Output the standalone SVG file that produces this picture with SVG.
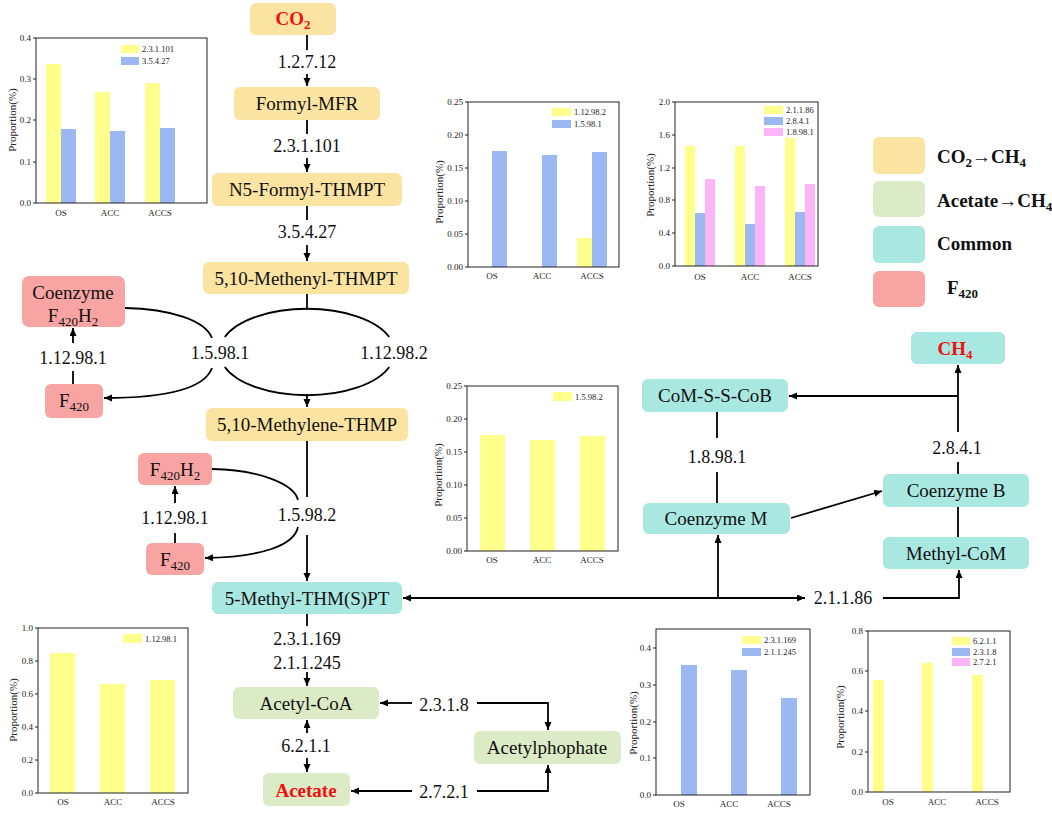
<svg xmlns="http://www.w3.org/2000/svg" width="1052" height="813" viewBox="0 0 1052 813">
<style>
text{font-family:'Liberation Serif','Times New Roman','DejaVu Serif',serif}
.o{fill:#FBE3A2}.g{fill:#DAEBC5}.c{fill:#A9E7E1}.r{fill:#F7A4A3}
.t{font-size:19px;fill:#111;text-anchor:middle}
.red{fill:#F01010;font-weight:bold}
.ec{font-size:18px;fill:#111;text-anchor:middle}
.ln{stroke:#000;stroke-width:1.8;fill:none}
.ar{stroke:#000;stroke-width:1.8;fill:none;marker-end:url(#ah)}
.lg{font-size:19px;font-weight:bold;fill:#111}
.fr{fill:none;stroke:#222;stroke-width:1}
.yl{font-size:9px;fill:#222;text-anchor:end}
.xl{font-size:9px;fill:#222;text-anchor:middle}
.le{font-size:8.5px;fill:#222}
.ti{font-size:11px;fill:#222;text-anchor:middle}
.by{fill:#FFFF8C}.bb{fill:#9BB8F2}.bp{fill:#FDB5F8}
</style>
<defs>
<marker id="ah" markerUnits="userSpaceOnUse" markerWidth="9" markerHeight="8" refX="8" refY="3.5" orient="auto">
<path d="M0,0 L8,3.5 L0,7 z" fill="#000"/>
</marker>
</defs>
<rect width="1052" height="813" fill="#fff"/>

<!-- Connectors -->
<g id="connectors">
<line class="ln" x1="307" y1="35" x2="307" y2="50"/>
<line class="ar" x1="307" y1="74" x2="307" y2="86"/>
<line class="ln" x1="307" y1="120" x2="307" y2="134"/>
<line class="ar" x1="307" y1="158" x2="307" y2="172"/>
<line class="ln" x1="307" y1="206" x2="307" y2="220"/>
<line class="ar" x1="307" y1="245" x2="307" y2="261"/>
<line class="ln" x1="307" y1="294" x2="307" y2="310"/>
<path class="ln" d="M224.8,337 A87,42 0 0 1 389.2,337"/>
<path class="ln" d="M224.8,367 A87,42 0 0 0 389.2,367"/>
<line class="ar" x1="307" y1="394" x2="307" y2="407"/>
<path class="ln" d="M125,308 C170,309 205,320 212,338"/>
<path class="ar" d="M212,368 C205,387 170,398 104,398"/>
<line class="ar" x1="73" y1="343" x2="73" y2="328"/>
<line class="ln" x1="73" y1="371" x2="73" y2="384"/>
<line class="ln" x1="307" y1="441" x2="307" y2="497"/>
<line class="ar" x1="307" y1="535" x2="307" y2="581"/>
<path class="ln" d="M212,469 C260,470 294,484 298,500"/>
<path class="ar" d="M298,527 C294,546 260,557 205,558"/>
<line class="ar" x1="175" y1="503" x2="175" y2="486"/>
<line class="ln" x1="175" y1="533" x2="175" y2="543"/>
<line class="ar" x1="718" y1="598" x2="403" y2="598"/>
<line class="ar" x1="718" y1="598" x2="718" y2="535"/>
<line class="ar" x1="718" y1="598" x2="805" y2="598"/>
<polyline class="ar" points="883,598 959,598 959,570"/>
<line class="ln" x1="958" y1="507" x2="958" y2="537"/>
<line class="ln" x1="958" y1="474" x2="958" y2="462"/>
<line class="ar" x1="958" y1="432" x2="958" y2="365"/>
<line class="ar" x1="958" y1="396" x2="789" y2="396"/>
<line class="ar" x1="791" y1="518" x2="882" y2="491"/>
<line class="ln" x1="717" y1="412" x2="717" y2="438"/>
<line class="ln" x1="717" y1="472" x2="717" y2="503"/>
<line class="ln" x1="307" y1="614" x2="307" y2="626"/>
<line class="ar" x1="307" y1="672" x2="307" y2="686"/>
<line class="ar" x1="307" y1="733" x2="307" y2="720"/>
<line class="ar" x1="307" y1="758" x2="307" y2="772"/>
<line class="ar" x1="412" y1="703" x2="380" y2="703"/>
<polyline class="ar" points="477,703 548,703 548,730"/>
<line class="ar" x1="412" y1="791" x2="351" y2="791"/>
<polyline class="ar" points="477,791 548,791 548,765"/>
<text class="ec" x="307" y="68">1.2.7.12</text>
<text class="ec" x="307" y="152">2.3.1.101</text>
<text class="ec" x="307" y="238">3.5.4.27</text>
<text class="ec" x="220" y="359">1.5.98.1</text>
<text class="ec" x="394" y="359">1.12.98.2</text>
<text class="ec" x="73" y="364">1.12.98.1</text>
<text class="ec" x="307" y="521">1.5.98.2</text>
<text class="ec" x="175" y="524">1.12.98.1</text>
<text class="ec" x="307" y="645">2.3.1.169</text>
<text class="ec" x="307" y="669">2.1.1.245</text>
<text class="ec" x="306" y="752">6.2.1.1</text>
<text class="ec" x="444" y="711">2.3.1.8</text>
<text class="ec" x="444" y="798">2.7.2.1</text>
<text class="ec" x="843" y="604">2.1.1.86</text>
<text class="ec" x="717" y="463">1.8.98.1</text>
<text class="ec" x="957" y="454">2.8.4.1</text>
</g>

<!-- Nodes -->
<g id="n-co2"><rect class="o" x="250" y="3" width="86" height="32" rx="6"/><text class="t red" x="293" y="25">CO<tspan font-size="13" dy="4">2</tspan></text></g>
<g id="n-formylmfr"><rect class="o" x="234" y="87" width="146" height="33" rx="6"/><text class="t" x="307" y="110">Formyl-MFR</text></g>
<g id="n-n5formyl"><rect class="o" x="212" y="173" width="190" height="33" rx="6"/><text class="t" x="307" y="196">N5-Formyl-THMPT</text></g>
<g id="n-methenyl"><rect class="o" x="203" y="262" width="206" height="32" rx="6"/><text class="t" x="306" y="285">5,10-Methenyl-THMPT</text></g>
<g id="n-methylene"><rect class="o" x="206" y="408" width="202" height="33" rx="6"/><text class="t" x="307" y="431">5,10-Methylene-THMP</text></g>
<g id="n-coenzf420h2"><rect class="r" x="22" y="276" width="103" height="51" rx="7"/><text class="t" x="73" y="299">Coenzyme</text><text class="t" x="73" y="322">F<tspan font-size="13" dy="4">420</tspan><tspan dy="-4">H</tspan><tspan font-size="13" dy="4">2</tspan></text></g>
<g id="n-f420a"><rect class="r" x="45" y="384" width="58" height="34" rx="6"/><text class="t" x="74" y="407">F<tspan font-size="13" dy="4">420</tspan></text></g>
<g id="n-f420h2"><rect class="r" x="138" y="453" width="74" height="32" rx="6"/><text class="t" x="175" y="476">F<tspan font-size="13" dy="4">420</tspan><tspan dy="-4">H</tspan><tspan font-size="13" dy="4">2</tspan></text></g>
<g id="n-f420b"><rect class="r" x="146" y="543" width="58" height="32" rx="6"/><text class="t" x="175" y="566">F<tspan font-size="13" dy="4">420</tspan></text></g>
<g id="n-methylthm"><rect class="c" x="212" y="582" width="190" height="32" rx="6"/><text class="t" x="307" y="605">5-Methyl-THM(S)PT</text></g>
<g id="n-acetylcoa"><rect class="g" x="233" y="687" width="146" height="32" rx="6"/><text class="t" x="306" y="710">Acetyl-CoA</text></g>
<g id="n-acetate"><rect class="g" x="263" y="773" width="87" height="33" rx="6"/><text class="t red" x="306" y="797">Acetate</text></g>
<g id="n-acetylphophate"><rect class="g" x="474" y="731" width="147" height="33" rx="6"/><text class="t" x="547" y="754">Acetylphophate</text></g>
<g id="n-ch4"><rect class="c" x="911" y="332" width="94" height="32" rx="6"/><text class="t red" x="955" y="355">CH<tspan font-size="13" dy="4">4</tspan></text></g>
<g id="n-comsscob"><rect class="c" x="642" y="379" width="146" height="33" rx="6"/><text class="t" x="715" y="402">CoM-S-S-CoB</text></g>
<g id="n-coenzm"><rect class="c" x="643" y="503" width="147" height="31" rx="6"/><text class="t" x="716" y="525">Coenzyme M</text></g>
<g id="n-coenzb"><rect class="c" x="883" y="474" width="146" height="33" rx="6"/><text class="t" x="956" y="497">Coenzyme B</text></g>
<g id="n-methylcom"><rect class="c" x="883" y="537" width="146" height="32" rx="6"/><text class="t" x="956" y="560">Methyl-CoM</text></g>

<!-- Legend -->
<g id="legend">
<rect class="o" x="873" y="137" width="52" height="37" rx="6"/>
<rect class="g" x="873" y="181" width="52" height="36" rx="6"/>
<rect class="c" x="873" y="226" width="52" height="37" rx="6"/>
<rect class="r" x="873" y="271" width="52" height="36" rx="6"/>
<text class="lg" x="937" y="163">CO<tspan font-size="13" dy="4">2</tspan><tspan dy="-4">→CH</tspan><tspan font-size="13" dy="4">4</tspan></text>
<text class="lg" x="937" y="207">Acetate→CH<tspan font-size="13" dy="4">4</tspan></text>
<text class="lg" x="937" y="250">Common</text>
<text class="lg" x="947" y="294">F<tspan font-size="13" dy="4">420</tspan></text>
</g>

<!-- Chart 1 -->
<g id="chart1">
<rect class="by" x="46" y="64" width="15" height="139"/><rect class="bb" x="61" y="129" width="15" height="74"/>
<rect class="by" x="95" y="92" width="15" height="111"/><rect class="bb" x="110" y="131" width="15" height="72"/>
<rect class="by" x="145" y="83" width="15" height="120"/><rect class="bb" x="160" y="128" width="15" height="75"/>
<rect class="fr" x="36" y="38" width="171" height="165"/>
<g stroke="#222" stroke-width="1"><line x1="33" y1="38" x2="36" y2="38"/><line x1="33" y1="79" x2="36" y2="79"/><line x1="33" y1="120" x2="36" y2="120"/><line x1="33" y1="162" x2="36" y2="162"/><line x1="33" y1="203" x2="36" y2="203"/></g>
<text class="yl" x="31" y="41">0.4</text><text class="yl" x="31" y="82">0.3</text><text class="yl" x="31" y="123">0.2</text><text class="yl" x="31" y="165">0.1</text><text class="yl" x="31" y="206">0.0</text>
<text class="xl" x="61" y="216">OS</text><text class="xl" x="110" y="216">ACC</text><text class="xl" x="160" y="216">ACCS</text>
<rect class="by" x="121" y="45" width="18" height="8"/><text class="le" x="142" y="52">2.3.1.101</text>
<rect class="bb" x="121" y="57" width="18" height="8"/><text class="le" x="142" y="64">3.5.4.27</text>
<text class="ti" font-size="12" transform="translate(16,120) rotate(-90)">Proportion(%)</text>
</g>

<!-- Chart 2 -->
<g id="chart2">
<rect class="bb" x="492" y="151" width="15" height="116"/>
<rect class="bb" x="542" y="155" width="15" height="112"/>
<rect class="by" x="577" y="238" width="15" height="29"/><rect class="bb" x="592" y="152" width="15" height="115"/>
<rect class="fr" x="468" y="102" width="151" height="165"/>
<g stroke="#222" stroke-width="1"><line x1="465" y1="102" x2="468" y2="102"/><line x1="465" y1="135" x2="468" y2="135"/><line x1="465" y1="168" x2="468" y2="168"/><line x1="465" y1="201" x2="468" y2="201"/><line x1="465" y1="234" x2="468" y2="234"/><line x1="465" y1="267" x2="468" y2="267"/></g>
<text class="yl" x="463" y="105">0.25</text><text class="yl" x="463" y="138">0.20</text><text class="yl" x="463" y="171">0.15</text><text class="yl" x="463" y="204">0.10</text><text class="yl" x="463" y="237">0.05</text><text class="yl" x="463" y="270">0.00</text>
<text class="xl" x="492" y="279">OS</text><text class="xl" x="542" y="279">ACC</text><text class="xl" x="592" y="279">ACCS</text>
<rect class="by" x="552" y="108" width="19" height="8"/><text class="le" x="574" y="115">1.12.98.2</text>
<rect class="bb" x="552" y="120" width="19" height="8"/><text class="le" x="574" y="127">1.5.98.1</text>
<text class="ti" transform="translate(443,192) rotate(-90)">Proportion(%)</text>
</g>

<!-- Chart 3 -->
<g id="chart3">
<rect class="by" x="685" y="146" width="10" height="120"/><rect class="bb" x="695" y="213" width="10" height="53"/><rect class="bp" x="705" y="179" width="10" height="87"/>
<rect class="by" x="735" y="146" width="10" height="120"/><rect class="bb" x="745" y="224" width="10" height="42"/><rect class="bp" x="755" y="186" width="10" height="80"/>
<rect class="by" x="785" y="138" width="10" height="128"/><rect class="bb" x="795" y="212" width="10" height="54"/><rect class="bp" x="805" y="184" width="10" height="82"/>
<rect class="fr" x="675" y="102" width="143" height="164"/>
<g stroke="#222" stroke-width="1"><line x1="672" y1="102" x2="675" y2="102"/><line x1="672" y1="135" x2="675" y2="135"/><line x1="672" y1="168" x2="675" y2="168"/><line x1="672" y1="200" x2="675" y2="200"/><line x1="672" y1="233" x2="675" y2="233"/><line x1="672" y1="266" x2="675" y2="266"/></g>
<text class="yl" x="670" y="105">2.0</text><text class="yl" x="670" y="138">1.6</text><text class="yl" x="670" y="171">1.2</text><text class="yl" x="670" y="203">0.8</text><text class="yl" x="670" y="236">0.4</text><text class="yl" x="670" y="269">0.0</text>
<text class="xl" x="700" y="280">OS</text><text class="xl" x="750" y="280">ACC</text><text class="xl" x="800" y="280">ACCS</text>
<rect class="by" x="764" y="106" width="19" height="8"/><text class="le" x="786" y="113">2.1.1.86</text>
<rect class="bb" x="764" y="117" width="19" height="8"/><text class="le" x="786" y="124">2.8.4.1</text>
<rect class="bp" x="764" y="128" width="19" height="8"/><text class="le" x="786" y="135">1.8.98.1</text>
<text class="ti" transform="translate(654,185) rotate(-90)">Proportion(%)</text>
</g>

<!-- Chart 4 -->
<g id="chart4">
<rect class="by" x="480" y="435" width="25" height="116"/>
<rect class="by" x="530" y="440" width="25" height="111"/>
<rect class="by" x="580" y="436" width="25" height="115"/>
<rect class="fr" x="467" y="386" width="151" height="165"/>
<g stroke="#222" stroke-width="1"><line x1="464" y1="386" x2="467" y2="386"/><line x1="464" y1="419" x2="467" y2="419"/><line x1="464" y1="452" x2="467" y2="452"/><line x1="464" y1="485" x2="467" y2="485"/><line x1="464" y1="518" x2="467" y2="518"/><line x1="464" y1="551" x2="467" y2="551"/></g>
<text class="yl" x="462" y="389">0.25</text><text class="yl" x="462" y="422">0.20</text><text class="yl" x="462" y="455">0.15</text><text class="yl" x="462" y="488">0.10</text><text class="yl" x="462" y="521">0.05</text><text class="yl" x="462" y="554">0.00</text>
<text class="xl" x="492" y="563">OS</text><text class="xl" x="542" y="563">ACC</text><text class="xl" x="592" y="563">ACCS</text>
<rect class="by" x="553" y="392" width="19" height="9"/><text class="le" x="575" y="400">1.5.98.2</text>
<text class="ti" transform="translate(442,475) rotate(-90)">Proportion(%)</text>
</g>

<!-- Chart 5 -->
<g id="chart5">
<rect class="by" x="50" y="653" width="25" height="140"/>
<rect class="by" x="100" y="684" width="25" height="109"/>
<rect class="by" x="150" y="680" width="25" height="113"/>
<rect class="fr" x="38" y="628" width="150" height="165"/>
<g stroke="#222" stroke-width="1"><line x1="35" y1="628" x2="38" y2="628"/><line x1="35" y1="661" x2="38" y2="661"/><line x1="35" y1="694" x2="38" y2="694"/><line x1="35" y1="727" x2="38" y2="727"/><line x1="35" y1="760" x2="38" y2="760"/><line x1="35" y1="793" x2="38" y2="793"/></g>
<text class="yl" x="33" y="631">1.0</text><text class="yl" x="33" y="664">0.8</text><text class="yl" x="33" y="697">0.6</text><text class="yl" x="33" y="730">0.4</text><text class="yl" x="33" y="763">0.2</text><text class="yl" x="33" y="796">0.0</text>
<text class="xl" x="63" y="805">OS</text><text class="xl" x="113" y="805">ACC</text><text class="xl" x="163" y="805">ACCS</text>
<rect class="by" x="123" y="634" width="19" height="9"/><text class="le" x="145" y="642">1.12.98.1</text>
<text class="ti" transform="translate(17,710) rotate(-90)">Proportion(%)</text>
</g>

<!-- Chart 6 -->
<g id="chart6">
<rect class="bb" x="681" y="665" width="16" height="130"/>
<rect class="bb" x="731" y="670" width="16" height="125"/>
<rect class="bb" x="781" y="698" width="16" height="97"/>
<rect class="fr" x="656" y="629" width="154" height="166"/>
<g stroke="#222" stroke-width="1"><line x1="653" y1="648" x2="656" y2="648"/><line x1="653" y1="685" x2="656" y2="685"/><line x1="653" y1="722" x2="656" y2="722"/><line x1="653" y1="758" x2="656" y2="758"/><line x1="653" y1="795" x2="656" y2="795"/></g>
<text class="yl" x="651" y="651">0.4</text><text class="yl" x="651" y="688">0.3</text><text class="yl" x="651" y="725">0.2</text><text class="yl" x="651" y="761">0.1</text><text class="yl" x="651" y="798">0.0</text>
<text class="xl" x="679" y="807">OS</text><text class="xl" x="729" y="807">ACC</text><text class="xl" x="779" y="807">ACCS</text>
<rect class="by" x="742" y="636" width="19" height="8"/><text class="le" x="764" y="643">2.3.1.169</text>
<rect class="bb" x="742" y="648" width="19" height="8"/><text class="le" x="764" y="655">2.1.1.245</text>
<text class="ti" transform="translate(637,723) rotate(-90)">Proportion(%)</text>
</g>

<!-- Chart 7 -->
<g id="chart7">
<rect class="by" x="873" y="680" width="11" height="112"/>
<rect class="by" x="922" y="663" width="11" height="129"/>
<rect class="by" x="972" y="675" width="11" height="117"/>
<rect class="fr" x="868" y="631" width="142" height="161"/>
<g stroke="#222" stroke-width="1"><line x1="865" y1="631" x2="868" y2="631"/><line x1="865" y1="671" x2="868" y2="671"/><line x1="865" y1="711" x2="868" y2="711"/><line x1="865" y1="752" x2="868" y2="752"/><line x1="865" y1="792" x2="868" y2="792"/></g>
<text class="yl" x="863" y="634">0.8</text><text class="yl" x="863" y="674">0.6</text><text class="yl" x="863" y="714">0.4</text><text class="yl" x="863" y="755">0.2</text><text class="yl" x="863" y="795">0.0</text>
<text class="xl" x="888" y="805">OS</text><text class="xl" x="937" y="805">ACC</text><text class="xl" x="987" y="805">ACCS</text>
<rect class="by" x="952" y="637" width="18" height="8"/><text class="le" x="973" y="644">6.2.1.1</text>
<rect class="bb" x="952" y="648" width="18" height="8"/><text class="le" x="973" y="655">2.3.1.8</text>
<rect class="bp" x="952" y="658" width="18" height="8"/><text class="le" x="973" y="665">2.7.2.1</text>
<text class="ti" transform="translate(844,717) rotate(-90)">Proportion(%)</text>
</g>
</svg>
